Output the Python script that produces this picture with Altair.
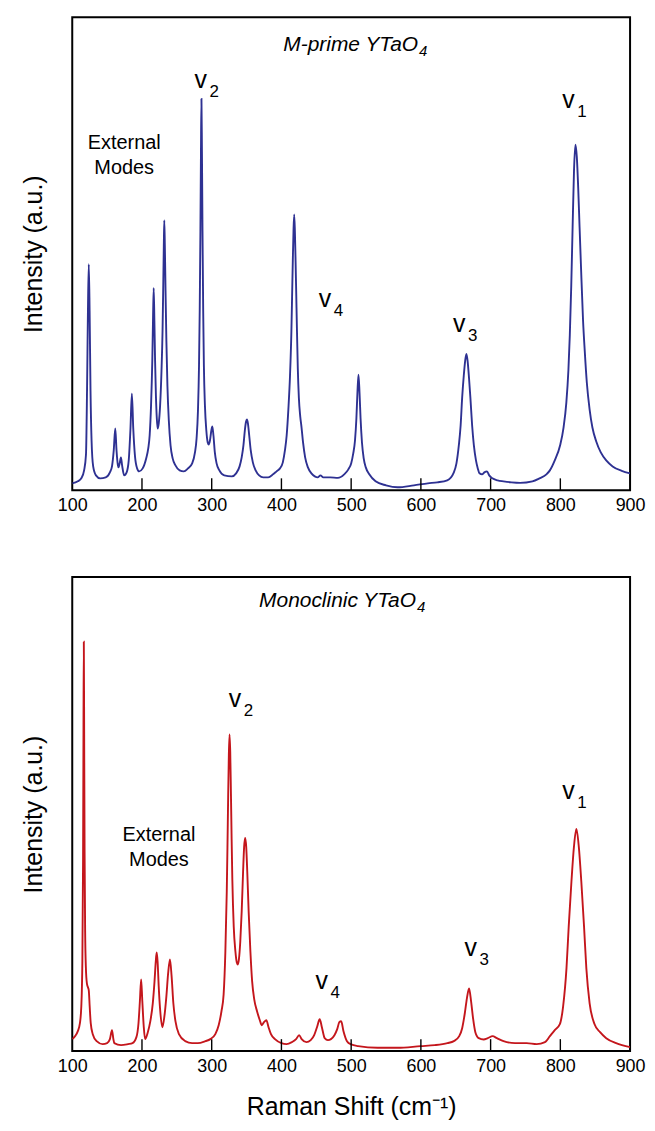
import altair as alt
import pandas as pd

# ---------------- data ----------------
tick_values = [100, 200, 300, 400, 500, 600, 700, 800, 900]

top_wn = [100, 108, 113, 117, 119.7, 121.2, 122.5, 123.7, 124.9, 126.2, 127.7, 130, 134, 140, 148, 154,
          157, 159.5, 161.7, 163.5, 165.5, 166.4, 168.3, 169.8, 171.5, 174.5, 178, 181, 183.5, 185.5,
          187.5, 190, 193, 195.9, 201, 206, 209, 211, 213, 214.8, 215.8, 216.8, 217.8, 218.8, 220,
          221.3, 222.5, 224, 226, 228, 229.5, 230.5, 231.3, 232, 232.8, 233.8, 235, 236.5, 238.5, 241,
          244, 248, 254, 260, 266, 272, 276, 278.3, 280.3, 281.8, 282.8, 283.8, 284.6, 285.3, 286,
          286.8, 287.8, 288.8, 290.3, 292.3, 294.3, 295.7, 297.5, 299.5, 300.9, 302.5, 304.5, 307, 311,
          318, 328.9, 335, 340, 343, 345.5, 347.5, 349.3, 350.5, 352, 353.8, 356, 359, 363, 368, 374,
          381, 388, 393, 397.9, 402, 405, 407.5, 410, 412.3, 414.3, 415.3, 416.3, 417.3, 418.3, 419.3,
          420.3, 421.3, 422.3, 423.5, 425, 427, 428.7, 431, 434, 438, 443, 447.8, 452, 456, 460, 470,
          481, 490, 496, 500, 503, 505.5, 507.5, 509, 510.5, 512, 513.5, 515.5, 518, 521, 526, 535,
          550, 566.5, 590, 610, 623.5, 637.8, 647.3, 651, 654.4, 657, 659.2, 661.5, 663.5, 665.3, 667,
          669, 671, 673.5, 676, 679, 681.6, 684, 687.7, 691, 694.8, 698, 702.5, 710, 718.5, 730, 742.3,
          760, 770, 780, 785, 792, 799.6, 804.6, 808.6, 811.6, 813.6, 815.6, 817.6, 819.6, 821.6,
          823.6, 825.6, 827.6, 829.6, 832.6, 835, 838, 842, 846, 851.5, 858, 865.8, 875, 888, 900]
top_int = [7, 9, 12, 20, 36, 100, 180, 227, 180, 100, 50, 24, 15, 12, 13, 18,
           24, 40, 62, 40, 25, 23, 28, 33, 25, 15, 18, 30, 62, 97,
           62, 34, 22, 19, 22, 32, 42, 55, 85, 130, 170, 203, 170, 130, 95,
           72, 62, 67, 85, 120, 160, 205, 245, 271, 245, 200, 150, 105, 70, 45,
           32, 25, 20, 19, 22, 27, 38, 52, 80, 125, 180, 260, 340, 393, 340,
           260, 180, 125, 85, 60, 48, 46, 50, 60, 64, 55, 38, 27, 20,
           15, 14, 17, 24, 33, 45, 60, 69, 71, 67, 55, 40, 28, 20, 15, 13,
           13, 16, 19, 22, 28, 40, 55, 82, 115, 160, 195, 230, 260, 277, 260,
           230, 195, 160, 122, 93, 74, 64, 48, 33, 23, 17, 14, 13, 15, 13, 13,
           12.5, 16, 21, 27, 37, 50, 72, 98, 116, 98, 72, 48, 32, 23, 16, 9,
           5, 3, 5, 7, 8, 10, 18, 27, 45, 65, 93, 115, 130, 137, 130,
           113, 93, 65, 45, 30, 22, 17, 16, 18, 19, 15, 12, 10, 9, 8, 7.5,
           9, 12, 16, 20, 30, 45, 63, 88, 121, 156, 204, 264, 321, 347,
           335, 304, 264, 225, 170, 140, 108, 81, 63, 49, 38, 30, 24, 19.5, 17]

bot_wn = [100, 104, 108, 111, 113, 114.5, 115.5, 116.1, 116.6, 117.1, 117.7, 118.5, 119.5, 121, 122.5,
          123.7, 125, 126.5, 129.4, 135, 143.6, 150, 154, 157, 159, 160.3, 170, 180, 186.4, 192, 195,
          197, 198.8, 200.5, 202.5, 204.5, 208, 212, 215.5, 218, 219.8, 221.1, 222.4, 224, 226, 229.2,
          232, 235, 237.5, 240.1, 242.5, 245, 248, 253, 262, 271.9, 280, 291, 298, 305.2, 310, 314,
          317.1, 319.6, 321.6, 322.6, 323.6, 324.6, 325.6, 326.6, 327.6, 328.6, 329.6, 331.6, 334, 336,
          337.5, 339, 341, 343, 345, 346.5, 348, 349.5, 351, 353, 355.5, 358, 361, 365, 369, 371.7,
          375, 378.4, 381.5, 385, 390.7, 400, 407.3, 415, 421, 425.4, 429, 435.9, 442, 447, 451, 454.9,
          458, 462, 466.7, 471, 476, 480, 483, 485.7, 489, 494, 500, 510, 538, 566.5, 599.7, 620, 638,
          647.3, 655, 659.2, 663, 666, 669.1, 672, 675, 678.1, 683, 690, 696, 702.9, 709, 718.5, 735,
          751.8, 766, 778, 785, 792, 799.3, 804, 808.8, 812, 815.9, 819.5, 823, 826.5, 830.1, 834,
          837.3, 842, 849.1, 857, 865.8, 880, 900]
bot_int = [12, 15, 20, 28, 45, 90, 190, 320, 411, 320, 200, 120, 85, 68, 64,
           61, 45, 28, 17, 10, 7, 8, 12, 21, 12, 8, 6, 7, 8, 14, 28,
           50, 72, 50, 25, 12, 18, 30, 48, 70, 90, 99, 90, 65, 42, 24,
           34, 55, 78, 92, 75, 48, 30, 17, 10, 8, 8, 10, 12, 17, 26, 40,
           57, 100, 160, 205, 255, 298, 318, 300, 258, 212, 172, 125, 100, 89,
           87, 92, 110, 140, 180, 205, 214, 205, 180, 140, 100, 70, 52, 40, 31, 26,
           29, 31, 24, 17, 12, 8, 7, 9, 12, 16, 12, 9, 11, 16, 24, 32,
           24, 13, 11, 12, 16, 22, 29, 30, 20, 10, 6.7, 5, 3.3, 3.3, 5, 6, 8,
           10, 15, 23, 38, 53, 63, 50, 32, 19, 13, 11.7, 13, 15, 13, 10, 8,
           8, 7, 9, 15, 21, 27, 45, 83, 125, 170, 205, 223, 205, 170, 125,
           83, 48, 27, 19, 13, 8, 4]

# annotation anchors (Raman shift, intensity)
top_title = ["M-prime YTaO", "4"]
top_title_pos = [596, 441]
bot_title = ["Monoclinic YTaO", "4"]
bot_title_pos = [593, 446]

ext_lines = ["External", "Modes"]
top_ext_x = 174.5
top_ext_y = [343, 318]
bot_ext_x = 224.3
bot_ext_y = [211, 186]

mode_subs = ["2", "4", "3", "1"]
top_mode_x = [293.3, 471.4, 663.9, 820.6]
top_mode_y = [404, 184, 159, 384]
bot_mode_x = [342.3, 466.7, 680.5, 820.6]
bot_mode_y = [345, 62, 95, 253]

TOP_COLOR = "#2e3192"
BOT_COLOR = "#c4161c"
FONT = "Liberation Sans"
W = 560


def panel(wn, inten, color, ymax, h, title, title_pos, ext_x, ext_y, mode_x, mode_y, xtitle):
    df = pd.DataFrame({"wn": wn, "i": inten})
    common = dict(values=tick_values, format="d", ticks=False, tickSize=0, domain=False,
                  grid=False, labelFontSize=18, labelPadding=6, labelFont=FONT,
                  labelColor="black", labelFlush=False, labelOverlap=False)
    if xtitle is None:
        xaxis = alt.Axis(title=None, **common)
    else:
        xaxis = alt.Axis(title=xtitle, titleFontSize=25, titleFontWeight="normal", titleFont=FONT,
                         titleColor="black", titlePadding=20, **common)
    x = alt.X("wn:Q", scale=alt.Scale(domain=[100, 900], nice=False, zero=False), axis=xaxis)
    y = alt.Y("i:Q", scale=alt.Scale(domain=[0, ymax], nice=False, zero=True),
              axis=alt.Axis(labels=False, ticks=False, tickSize=0, domain=False, grid=False,
                            title="Intensity (a.u.)", titleFontSize=25, titleFont=FONT,
                            titleFontWeight="normal", titlePadding=26, titleColor="black"))
    line = alt.Chart(df).mark_line(color=color, strokeWidth=1.9, interpolate="monotone",
                                   clip=True).encode(x=x, y=y)

    ticks = alt.Chart(pd.DataFrame({"wn": tick_values[1:-1]})).mark_rule(
        color="black", strokeWidth=1.4).encode(x="wn:Q", y=alt.value(h), y2=alt.value(h - 12))

    tdf = pd.DataFrame({"wn": [title_pos[0]], "i": [title_pos[1]], "t": [title[0]], "s": [title[1]]})
    t_main = alt.Chart(tdf).mark_text(align="right", baseline="alphabetic", fontSize=21,
                                      fontStyle="italic", font=FONT, color="black").encode(
        x="wn:Q", y="i:Q", text="t:N")
    t_sub = alt.Chart(tdf).mark_text(align="left", baseline="alphabetic", fontSize=15,
                                     fontStyle="italic", font=FONT, color="black", dx=1, dy=5).encode(
        x="wn:Q", y="i:Q", text="s:N")

    edf = pd.DataFrame({"wn": [ext_x, ext_x], "i": ext_y, "t": ext_lines})
    ext = alt.Chart(edf).mark_text(align="center", baseline="alphabetic", fontSize=20,
                                   font=FONT, color="black").encode(x="wn:Q", y="i:Q", text="t:N")

    mdf = pd.DataFrame({"wn": mode_x, "i": mode_y, "t": ["v"] * 4, "s": mode_subs})
    m_main = alt.Chart(mdf).mark_text(align="right", baseline="alphabetic", fontSize=25,
                                      font=FONT, color="black").encode(x="wn:Q", y="i:Q", text="t:N")
    m_sub = alt.Chart(mdf).mark_text(align="left", baseline="alphabetic", fontSize=17,
                                     font=FONT, color="black", dx=2.5, dy=9).encode(
        x="wn:Q", y="i:Q", text="s:N")

    return alt.layer(line, ticks, t_main, t_sub, ext, m_main, m_sub).properties(width=W, height=h)


top = panel(top_wn, top_int, TOP_COLOR, 475, 475, top_title, top_title_pos,
            top_ext_x, top_ext_y, top_mode_x, top_mode_y, None)
bot = panel(bot_wn, bot_int, BOT_COLOR, 476, 476, bot_title, bot_title_pos,
            bot_ext_x, bot_ext_y, bot_mode_x, bot_mode_y, "Raman Shift (cm\u207b\u00b9)")

chart = alt.vconcat(top, bot, spacing=61).properties(
    padding={"left": 12.5, "top": 6, "right": 0, "bottom": 0},
    background="white"
).configure_view(stroke="black", strokeWidth=2)

chart.save("out.html", embed_options={"renderer": "svg", "actions": False})
